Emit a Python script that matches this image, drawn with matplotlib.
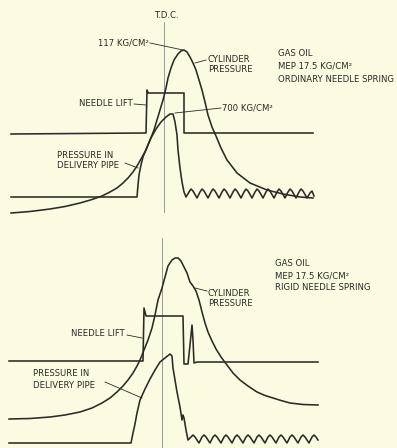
import matplotlib.pyplot as plt

tdc_top_x = 164
tdc_top_span = (22, 212)
tdc_bot_x = 162
tdc_bot_span = (238, 448)

# upper record: ordinary needle spring
top_cyl_x = [11, 30, 50, 65, 80, 92, 102, 110, 117, 123, 128, 133, 137, 141, 146, 150, 154, 157,
             160, 163, 166, 168, 171, 174, 178, 181, 184, 187, 190, 193, 196, 199, 202, 205, 208,
             212, 216, 221, 227, 237, 250, 267, 283, 300, 313]
top_cyl_y = [213, 211.5, 209, 206.5, 203, 199.5, 196, 192, 188, 183, 178, 172, 166, 159, 150, 140,
             130, 120, 110, 100, 88, 78, 68, 60, 54, 51, 50, 52, 57, 63, 70, 80, 90, 102, 115,
             127, 136, 148, 160, 173, 183, 190, 194, 197, 198]

top_pipe_x = [11, 137, 138, 139, 141, 143, 147, 151, 156, 161, 166, 170, 173, 175, 177, 178, 180,
              182, 184, 186,
              189, 191, 193, 197, 200, 202, 204, 208, 211, 213, 215, 219, 222, 224, 226, 230,
              233, 235, 237, 241, 244, 246, 248, 252, 255, 257, 259, 263, 266, 268, 270, 274,
              277, 279, 281, 285, 288, 290, 292, 296, 299, 301, 303, 307, 310, 312, 314]
top_pipe_y = [197, 197, 185, 175, 165, 157, 147, 138, 129, 122, 117, 114, 114, 122, 135, 150, 168,
              182, 192, 197,
              192, 189, 191, 198, 192, 189, 191, 198, 192, 189, 191, 198, 192, 189, 191, 198,
              192, 189, 191, 198, 192, 189, 191, 198, 192, 189, 191, 198, 192, 189, 191, 198,
              192, 189, 191, 198, 192, 189, 191, 198, 192, 189, 191, 198, 193, 191, 196]

top_needle_x = [11, 145, 146, 147, 148, 184, 184, 313]
top_needle_y = [134, 133, 133, 90, 93, 93, 133, 133]

# lower record: rigid needle spring
bot_cyl_x = [9, 30, 50, 65, 80, 92, 102, 110, 117, 123, 128, 133, 137, 140, 144, 148, 152, 155,
             158, 162, 165, 168, 172, 175, 178, 181, 184, 187, 190, 193, 196, 199, 202, 205, 208,
             212, 216, 221, 227, 233, 240, 248, 257, 265, 273, 281, 290, 303, 318]
bot_cyl_y = [419, 418.5, 417, 415, 412, 408, 403, 398, 392, 386, 380, 373, 366, 360, 350, 340, 328,
             315, 300, 288, 277, 266, 260, 258, 258, 261, 267, 273, 282, 286, 291, 300, 312, 323,
             332, 341, 349, 357, 365, 373, 380, 386, 392, 395.5, 398, 400.5, 403, 404.5, 405]

bot_pipe_x = [9, 131, 133, 135, 137, 140, 145, 150, 155, 160, 165, 170, 172, 173, 175, 177, 180, 182,
              183, 184, 186, 188,
              191, 193, 195, 199, 202, 204, 206, 210, 213, 215, 217, 221, 224, 226, 228, 232,
              235, 237, 239, 243, 246, 248, 250, 254, 257, 259, 261, 265, 268, 270, 272, 276,
              279, 281, 283, 287, 290, 292, 294, 298, 301, 303, 305, 309, 312, 314, 316, 318]
bot_pipe_y = [443, 443, 433, 424, 413, 400, 389, 379, 370, 362, 358, 354, 356, 368, 380, 392, 407, 420,
              415, 418, 430, 440,
              437, 435, 437, 443, 437, 435, 437, 443, 437, 435, 437, 443, 437, 435, 437, 443,
              437, 435, 437, 443, 437, 435, 437, 443, 437, 435, 437, 443, 437, 435, 437, 443,
              437, 435, 437, 443, 437, 435, 437, 443, 437, 435, 437, 443, 437, 435, 437, 440]

bot_needle_x = [9, 142, 143, 144, 146, 183, 184, 188, 190, 192, 193, 194, 197, 318]
bot_needle_y = [361, 361, 361, 308, 316, 316, 364, 364, 345, 325, 340, 363, 362, 362]

# captions: (text, x, y, horizontal alignment)
labels = [
    ("T.D.C.", 166, 15, "center"),
    ("117 KG/CM²", 149, 43, "right"),
    ("CYLINDER", 208, 59, "left"),
    ("PRESSURE", 208, 69, "left"),
    ("GAS OIL", 278, 53, "left"),
    ("MEP 17.5 KG/CM²", 278, 66, "left"),
    ("ORDINARY NEEDLE SPRING", 278, 79, "left"),
    ("NEEDLE LIFT", 133, 104, "right"),
    ("700 KG/CM²", 222, 108, "left"),
    ("PRESSURE IN", 57, 156, "left"),
    ("DELIVERY PIPE", 57, 166, "left"),
    ("GAS OIL", 275, 263, "left"),
    ("MEP 17.5 KG/CM²", 275, 276, "left"),
    ("RIGID NEEDLE SPRING", 275, 288, "left"),
    ("CYLINDER", 208, 293, "left"),
    ("PRESSURE", 208, 304, "left"),
    ("NEEDLE LIFT", 125, 333, "right"),
    ("PRESSURE IN", 33, 374, "left"),
    ("DELIVERY PIPE", 33, 385, "left"),
]

# leader lines from captions to traces: (x0, y0, x1, y1)
leaders = [
    (150, 43, 183, 50),
    (195, 63, 206, 60),
    (134, 104, 146, 105),
    (175, 113, 221, 108),
    (125, 163, 138, 168),
    (195, 288, 207, 291),
    (127, 335, 142, 338),
    (105, 382, 142, 398),
]

ink = "#2a2a28"
paper = "#fcfae0"

fig = plt.figure(figsize=(3.97, 4.48), dpi=100)
fig.patch.set_facecolor(paper)
ax = fig.add_axes([0, 0, 1, 1])
ax.set_facecolor(paper)
ax.set_xlim(0, 397)
ax.set_ylim(448, 0)
ax.axis("off")

# top dead centre markers
ax.plot([tdc_top_x, tdc_top_x], tdc_top_span, color="#8a8a84", lw=0.6)
ax.plot([tdc_bot_x, tdc_bot_x], tdc_bot_span, color="#8a8a84", lw=0.6)

for xs, ys in [(top_cyl_x, top_cyl_y), (top_pipe_x, top_pipe_y), (top_needle_x, top_needle_y),
               (bot_cyl_x, bot_cyl_y), (bot_pipe_x, bot_pipe_y), (bot_needle_x, bot_needle_y)]:
    ax.plot(xs, ys, color=ink, lw=1.15, solid_joinstyle="round")

for x0, y0, x1, y1 in leaders:
    ax.plot([x0, x1], [y0, y1], color=ink, lw=0.6)

for txt, x, y, ha in labels:
    ax.text(x, y, txt, ha=ha, va="center", fontsize=6.1, color=ink, family="DejaVu Sans")

plt.savefig("out.png", dpi=100, facecolor=paper)
